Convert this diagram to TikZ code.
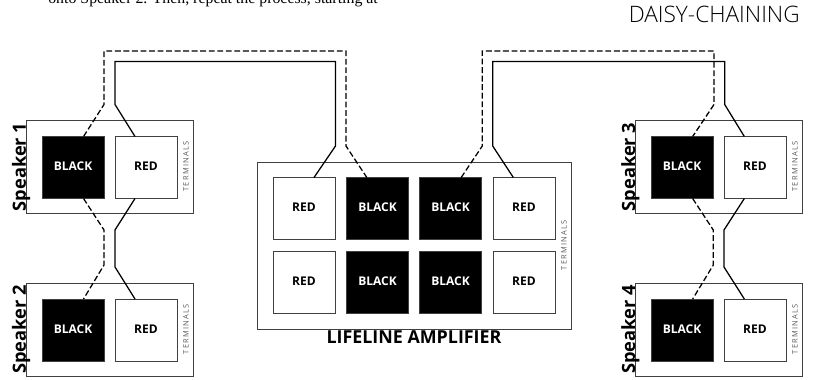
\documentclass[tikz,border=0pt]{standalone}
\usepackage{fontspec}
\setmainfont{Open Sans}
\newfontfamily\serifface{Liberation Serif}
\newfontfamily\lightface{Open Sans Light}
\usetikzlibrary{calc}
\tikzset{
 x=0.75pt,y=-0.75pt,
 housing/.style={draw=black!75,line width=0.7pt,fill=white,minimum width=125.25pt,minimum height=70pt,inner sep=0,outer sep=0,rectangle},
 ampbox/.style={draw=black!75,line width=0.7pt,fill=white,minimum width=235.5pt,minimum height=125.5pt,inner sep=0,outer sep=0,rectangle},
 redpost/.style={draw=black!75,line width=0.7pt,fill=white,text=black,minimum size=46.5pt,inner sep=0,outer sep=0,rectangle,text depth=1.6pt,font=\bfseries\fontsize{9}{10}\selectfont},
 blackpost/.style={draw=black!75,line width=0.7pt,fill=black,text=white,minimum size=46.5pt,inner sep=0,outer sep=0,rectangle,text depth=1.6pt,font=\bfseries\fontsize{9}{10}\selectfont},
 termlabel/.style={rotate=90,text=black!65,inner sep=0,font=\fontsize{5.6}{6}\selectfont,anchor=base},
 spklabel/.style={rotate=90,anchor=base west,inner sep=0,font=\bfseries\fontsize{13.7}{16}\selectfont},
 solidwire/.style={draw=black,line width=0.95pt,line join=miter},
 dashwire/.style={draw=black,line width=0.95pt,dash pattern=on 4.4pt off 2pt},
}
\newcommand{\speakerunit}[4]{% name, left x, top y, number
 \node[housing,anchor=north west] (#1) at (#2,#3) {};
 \node[blackpost] (#1b) at ($(#2,#3)+(47,47)$) {BLACK};
 \node[redpost] (#1r) at ($(#2,#3)+(120,47)$) {RED};
 \node[termlabel] (#1t) at ($(#2,#3)+(162.5,46)$) {T\,E\,R\,M\,I\,N\,A\,L\,S};
 \node[spklabel] (#1s) at ($(#2,#3)+(0,91)$) {Speaker #4};
}
\begin{document}
\begin{tikzpicture}
\clip (0,0) rectangle (815,379);
\path[fill=white] (0,0) rectangle (815,379);
\node[anchor=base west,inner sep=0,font=\serifface\fontsize{11.9}{13}\selectfont] (intro) at (48,3) {onto Speaker 2. Then, repeat the process, starting at};
\node[anchor=base east,inner sep=0,font=\lightface\fontsize{17}{19}\selectfont] (title) at (800,22.7) {DAISY-CHAINING};
\speakerunit{sa}{26}{120.5}{1}
\speakerunit{sb}{26}{283}{2}
\speakerunit{sc}{635}{120.5}{3}
\speakerunit{sd}{635}{283}{4}
% amplifier
\node[ampbox,anchor=north west] (amp) at (257,162) {};
\foreach \n/\xx/\st/\tx in {a/304/redpost/RED,b/377.5/blackpost/BLACK,c/450.5/blackpost/BLACK,d/524/redpost/RED}{
 \node[\st] (amp\n1) at (\xx,208.5) {\tx};
 \node[\st] (amp\n2) at (\xx,282.5) {\tx};
}
\node[termlabel] (ampt) at (566.5,245) {T\,E\,R\,M\,I\,N\,A\,L\,S};
\node[anchor=base,inner sep=0,font=\bfseries\fontsize{13.4}{15}\selectfont] (ampl) at (414,343) {LIFELINE AMPLIFIER};
% wire bends
\coordinate (s1) at (115,104.5); \coordinate (s2) at (115,61.5); \coordinate (s3) at (335.5,61.5); \coordinate (s4) at (335.5,146);
\coordinate (d1) at (104,104.5); \coordinate (d2) at (104,51); \coordinate (d3) at (346,51); \coordinate (d4) at (346,146);
\coordinate (e1) at (482.3,146); \coordinate (e2) at (482.3,51); \coordinate (e3) at (714,51); \coordinate (e4) at (714,104.5);
\coordinate (t1) at (492.7,146); \coordinate (t2) at (492.7,61.5); \coordinate (t3) at (724.7,61.5); \coordinate (t4) at (724.7,104.5);
\coordinate (u1) at (115,230); \coordinate (u2) at (115,267);
\coordinate (v1) at (104,230); \coordinate (v2) at (104,265);
\coordinate (w1) at (724,230); \coordinate (w2) at (724,267);
\coordinate (z1) at (713.3,230); \coordinate (z2) at (713.3,265);
% wires
\draw[solidwire] ([xshift=-8.25pt]sar.north) -- (s1) -- (s2) -- (s3) -- (s4) -- ([xshift=7.5pt]ampa1.north);
\draw[dashwire] ([xshift=7.9pt]sab.north) -- (d1) -- (d2) -- (d3) -- (d4) -- ([xshift=-8pt]ampb1.north);
\draw[dashwire] ([xshift=8pt]ampc1.north) -- (e1) -- (e2) -- (e3) -- (e4) -- ([xshift=8pt]scb.north);
\draw[solidwire] ([xshift=-8pt]ampd1.north) -- (t1) -- (t2) -- (t3) -- (t4) -- ([xshift=-8pt]scr.north);
\draw[solidwire] ([xshift=-8.25pt]sar.south) -- (u1) -- (u2) -- ([xshift=-8.25pt]sbr.north);
\draw[dashwire] ([xshift=7.9pt]sab.south) -- (v1) -- (v2) -- ([xshift=7.9pt]sbb.north);
\draw[solidwire] ([xshift=-8pt]scr.south) -- (w1) -- (w2) -- ([xshift=-8pt]sdr.north);
\draw[dashwire] ([xshift=8pt]scb.south) -- (z1) -- (z2) -- ([xshift=8pt]sdb.north);
\end{tikzpicture}
\end{document}
